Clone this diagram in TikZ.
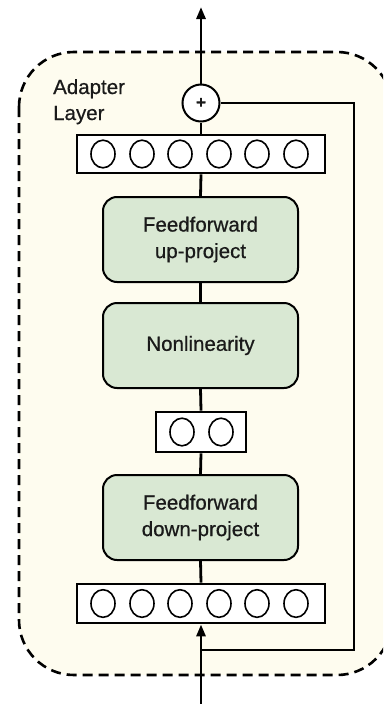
\documentclass[tikz,border=0pt]{standalone}
\usepackage{fontspec}
\setmainfont{Liberation Sans}[FakeBold=0.6]
\newfontfamily\labelfont{Liberation Sans}[FakeBold=0.6]
\usetikzlibrary{arrows.meta,calc}
\definecolor{panelbg}{HTML}{FEFCEF}
\definecolor{boxgreen}{HTML}{D9E8D3}
\definecolor{inkdark}{HTML}{1A1A1A}
\begin{document}
\begin{tikzpicture}[x=1pt,y=-1pt,
  wire/.style={line width=2.8pt,draw=black},
  tip/.style={-{Triangle[length=12pt,width=9pt]}},
  vecbar/.style={draw=black,line width=2.8pt,fill=white,rectangle,inner sep=0pt},
  layerbox/.style={draw=black,line width=2pt,fill=boxgreen,rounded corners=14pt,
    minimum width=195pt,minimum height=85pt,align=center,inner sep=0pt,
    text=inkdark,font=\labelfont\fontsize{20.5}{26.5}\selectfont},
  unit/.style={draw=black,line width=1.6pt},
  sumnode/.style={draw=black,line width=2pt,fill=white,circle,minimum size=37pt,inner sep=0pt,
    font=\fontsize{17}{17}\selectfont\bfseries,text=inkdark}]
  \useasboundingbox (0,0) rectangle (383,704);
  \fill[white] (0,0) rectangle (383,704);
  % adapter panel (right side runs past the page edge)
  \begin{scope}
    \clip (0,0) rectangle (383,704);
    \draw[fill=panelbg,line width=2.6pt,dash pattern=on 10pt off 6pt,rounded corners=55pt]
      (19,52) rectangle (392,675);
  \end{scope}
  \node[anchor=base west,align=left,inner sep=0pt,text=inkdark,font=\labelfont\fontsize{20.5}{26}\selectfont]
    (title) at (53,120) {Adapter\\Layer};

  % blocks
  \node[sumnode] (sum) at (201,103) {+};
  \node[vecbar,minimum width=248pt,minimum height=38pt] (topvec) at (201,154) {};
  \node[layerbox] (up) at (200.5,239.5) {Feedforward\\up-project};
  \node[layerbox] (nl) at (200.5,345.5) {Nonlinearity};
  \node[vecbar,minimum width=90pt,minimum height=40pt] (midvec) at (201,432) {};
  \node[layerbox] (down) at (200.5,517.5) {Feedforward\\down-project};
  \node[vecbar,minimum width=248pt,minimum height=39pt] (botvec) at (201,603.5) {};

  % units inside the vectors
  \foreach \x in {103,142,180,219,257,296}{
    \draw[unit] (\x,154) ellipse [x radius=12pt,y radius=13.8pt];
    \draw[unit] (\x,603.5) ellipse [x radius=12pt,y radius=13.8pt];
  }
  \draw[unit] (182,432) ellipse [x radius=12pt,y radius=13.8pt];
  \draw[unit] (221,432) ellipse [x radius=12pt,y radius=13.8pt];

  % connectors
  \coordinate (out) at (201,7);
  \coordinate (in) at (201,704);
  \coordinate (split) at (201,650);
  \coordinate (skipr) at (354,650);
  \coordinate (skipt) at (354,103);
  \draw[wire,tip] (sum.north) -- (out);
  \draw[wire] (topvec.north) -- (sum.south);
  \draw[wire] (up.north) -- (topvec.south);
  \draw[wire] (nl.north) -- (up.south);
  \draw[wire] (midvec.north) -- (nl.south);
  \draw[wire] (down.north) -- (midvec.south);
  \draw[wire] (botvec.north) -- (down.south);
  \draw[wire,tip] (in) -- (botvec.south);
  \draw[wire] (split) -- (skipr) -- (skipt) -- (sum.east);
\end{tikzpicture}
\end{document}
